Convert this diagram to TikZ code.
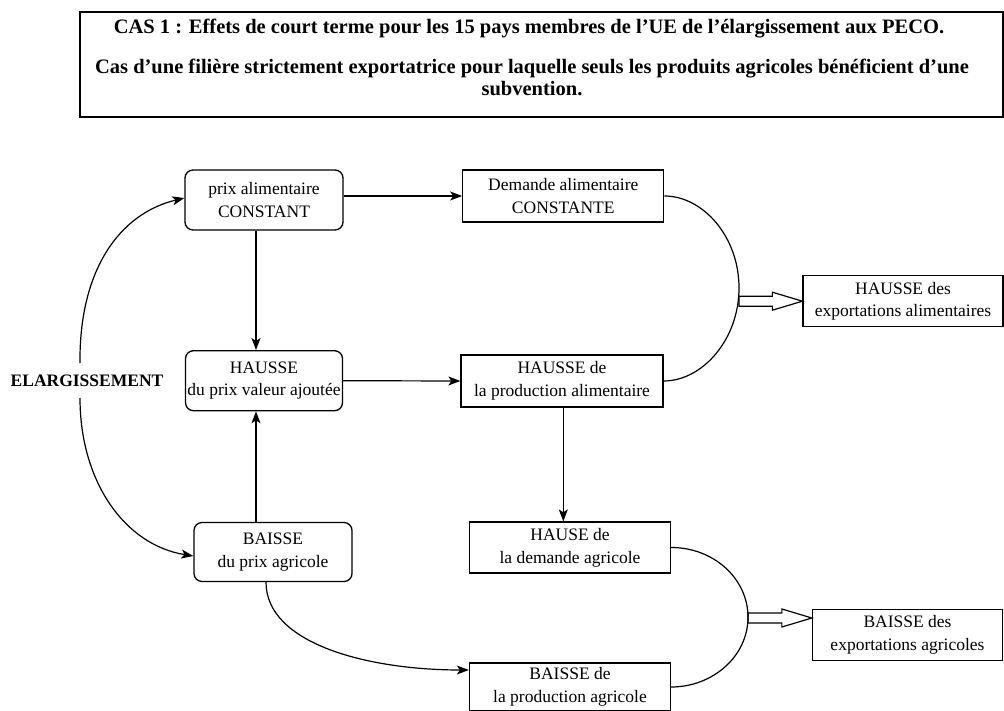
\documentclass[tikz,border=0pt]{standalone}
\usepackage{fontspec}
\setmainfont{Liberation Serif}
\usetikzlibrary{arrows.meta,calc}
\begin{document}
\begin{tikzpicture}[x=1pt,y=-1pt,
  txt/.style={font=\fontsize{17.5}{22.7}\selectfont},
  sq/.style={txt, draw, line width=1.3pt, inner sep=0pt, align=center},
  rnd/.style={sq, rounded corners=8pt},
  arr/.style={line width=1.2pt, -{Stealth[length=12pt,width=9pt,inset=3pt]}},
  curve/.style={line width=1.2pt},
  hollow/.style={line width=1.2pt, to path={let \p1=(\tikztostart), \p2=(\tikztotarget) in
     (\x1,\y1+5pt) -- (\x2-30pt,\y1+5pt) -- (\x2-30pt,\y1+9pt) -- (\x2,\y1)
     -- (\x2-30pt,\y1-9pt) -- (\x2-30pt,\y1-5pt) -- (\x1,\y1-5pt) -- cycle}},
  ttl/.style={font=\fontsize{20.5}{22}\selectfont\bfseries, align=center, inner sep=0pt}
]
\useasboundingbox (0,0) rectangle (1004,711);

% title
\node[draw, line width=1.5pt, minimum width=923pt, minimum height=105pt, inner sep=0pt] (title) at (541.5,64.5) {};
\node[ttl] (t1) at (529,29) {CAS 1 : Effets de court terme pour les 15 pays membres de l’UE de l’élargissement aux PECO.};
\node[ttl] (t2) at (532,77) {Cas d’une filière strictement exportatrice pour laquelle seuls les produits agricoles bénéficient d’une\\subvention.};

% nodes
\node[rnd, minimum width=158pt, minimum height=60pt] (prix) at (264,200) {prix alimentaire\\CONSTANT};
\node[sq, minimum width=201pt, minimum height=52pt] (dem) at (563.3,196) {Demande alimentaire\\CONSTANTE};
\node[rnd, minimum width=157pt, minimum height=60pt] (haus) at (264,380.7) {HAUSSE\\du prix valeur ajoutée};
\node[sq, minimum width=202pt, minimum height=52pt] (prod) at (562,381) {HAUSSE de\\la production alimentaire};
\node[sq, minimum width=200pt, minimum height=51pt] (expa) at (903,301.2) {HAUSSE des\\exportations alimentaires};
\node[rnd, minimum width=158pt, minimum height=59pt] (baisse) at (273,552) {BAISSE\\du prix agricole};
\node[sq, minimum width=201pt, minimum height=51pt] (demagr) at (570,547.5) {HAUSE de\\la demande agricole};
\node[sq, minimum width=201pt, minimum height=48pt] (prodagr) at (570,687) {BAISSE de\\la production agricole};
\node[sq, minimum width=190pt, minimum height=51pt] (expagr) at (907.5,635) {BAISSE des\\exportations agricoles};
\node[txt, font=\fontsize{17.5}{22.7}\selectfont\bfseries, inner sep=0pt] (elarg) at (87,380.5) {ELARGISSEMENT};

\coordinate (e1) at (80,363);
\coordinate (e2) at (80,398);
\coordinate (c1) at (739,301.2);
\coordinate (c2) at (748,618);

% connectors
\draw[arr] (prix.east |- dem.west) -- (dem.west);
\draw[arr] ([xshift=-8pt]prix.south) -- ([xshift=-8pt]haus.north);
\draw[arr] ([xshift=-17pt]baisse.south |- baisse.north) -- ([xshift=-8pt]haus.south);
\draw[arr] (haus.east) -- (prod.west);
\draw[arr] ([xshift=1.3pt]prod.south) -- ([xshift=-6.7pt]demagr.north);
\draw[arr] ([xshift=-7pt]baisse.south) .. controls +(0,62) and +(-100,0) .. ([yshift=17pt]prodagr.west);
\draw[arr] (e1) .. controls (79,272) and (118,214) .. ([yshift=2pt]prix.west);
\draw[arr] (e2) .. controls (80,482) and (125,545) .. ([yshift=-4pt]baisse.west);

\draw[curve] (dem.east) .. controls +(38,0) and (739,236) .. (739,288) .. controls (739,340) and (702,381) .. (prod.east);
\draw[curve] (demagr.east) .. controls +(43,0) and (748,579) .. (748,617.25) .. controls (748,656) and (713,687) .. (prodagr.east);

\draw[hollow] (c1) to (expa.west);
\draw[hollow] (c2) to (expagr.west |- c2);
\end{tikzpicture}
\end{document}
